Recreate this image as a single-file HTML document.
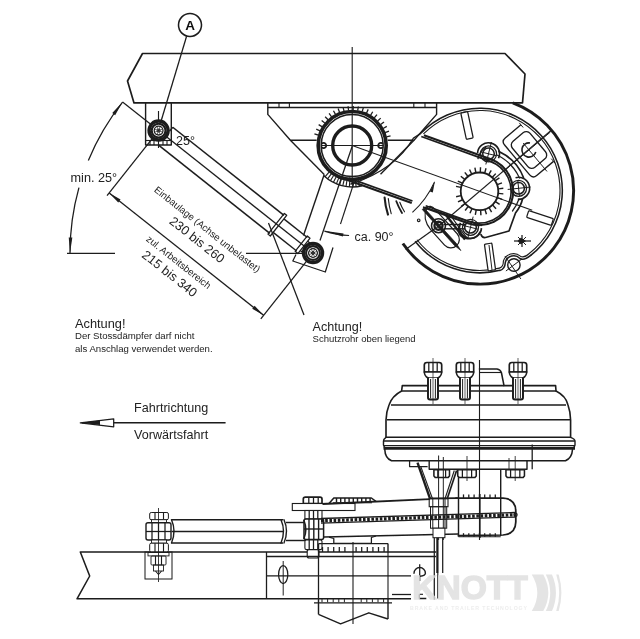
<!DOCTYPE html>
<html><head><meta charset="utf-8"><title>Drawing</title>
<style>
html,body{margin:0;padding:0;background:#fff;}
body{width:640px;height:639px;overflow:hidden;}
svg{display:block;font-family:"Liberation Sans",sans-serif;}
</style></head><body>
<svg width="640" height="639" viewBox="0 0 640 639">
<defs><filter id="soft" x="0" y="0" width="640" height="639" filterUnits="userSpaceOnUse"><feGaussianBlur stdDeviation="0.45"/></filter></defs>
<rect width="640" height="639" fill="#fff"/>
<g filter="url(#soft)">
<g id="top" stroke-linecap="butt">
<polygon points="142.50,53.50 505.00,53.50 525.00,74.00 522.50,102.90 134.00,102.90 127.50,81.00" fill="none" stroke="#1c1c1c" stroke-width="1.68" stroke-linejoin="round" />
<circle cx="190.00" cy="25.00" r="11.50" fill="none" stroke="#1c1c1c" stroke-width="1.54"/>
<text x="190.00" y="29.80" font-size="13.5" fill="#111" text-anchor="middle" font-weight="bold">A</text>
<line x1="186.60" y1="36.20" x2="159.00" y2="128.00" stroke="#1c1c1c" stroke-width="1.26" />
<polyline points="145.60,102.90 145.60,145.00 171.30,145.00 171.30,102.90" fill="none" stroke="#1c1c1c" stroke-width="1.4" stroke-linejoin="round" />
<line x1="145.60" y1="140.50" x2="171.30" y2="140.50" stroke="#1c1c1c" stroke-width="1.12" />
<line x1="150.00" y1="140.50" x2="150.00" y2="145.00" stroke="#1c1c1c" stroke-width="1.12" />
<line x1="154.00" y1="140.50" x2="154.00" y2="145.00" stroke="#1c1c1c" stroke-width="1.12" />
<line x1="163.00" y1="140.50" x2="163.00" y2="145.00" stroke="#1c1c1c" stroke-width="1.12" />
<line x1="167.00" y1="140.50" x2="167.00" y2="145.00" stroke="#1c1c1c" stroke-width="1.12" />
<line x1="158.50" y1="111.00" x2="158.50" y2="148.00" stroke="#1c1c1c" stroke-width="1.12" />
<line x1="122.55" y1="102.02" x2="158.60" y2="130.60" stroke="#1c1c1c" stroke-width="1.26" />
<line x1="172.73" y1="127.26" x2="284.01" y2="215.47" stroke="#1c1c1c" stroke-width="1.54" />
<line x1="172.73" y1="127.26" x2="169.63" y2="131.18" stroke="#1c1c1c" stroke-width="1.4" />
<line x1="158.57" y1="145.12" x2="269.85" y2="233.34" stroke="#1c1c1c" stroke-width="1.54" />
<line x1="158.60" y1="130.60" x2="313.00" y2="253.00" stroke="#1c1c1c" stroke-width="1.26" />
<polygon points="284.35,213.44 286.70,215.30 270.30,235.99 267.94,234.13" fill="none" stroke="#1c1c1c" stroke-width="1.26" stroke-linejoin="round" />
<line x1="283.84" y1="218.91" x2="307.35" y2="237.54" stroke="#1c1c1c" stroke-width="1.4" />
<line x1="273.15" y1="232.39" x2="296.66" y2="251.02" stroke="#1c1c1c" stroke-width="1.4" />
<polygon points="307.31,235.98 310.05,238.16 297.88,253.52 295.13,251.34" fill="none" stroke="#1c1c1c" stroke-width="1.26" stroke-linejoin="round" />
<line x1="307.69" y1="241.14" x2="311.22" y2="243.93" stroke="#1c1c1c" stroke-width="1.26" />
<line x1="300.24" y1="250.54" x2="303.76" y2="253.33" stroke="#1c1c1c" stroke-width="1.26" />
<circle cx="158.60" cy="130.60" r="9.50" fill="#fff" stroke="#1c1c1c" stroke-width="3.5"/>
<circle cx="158.60" cy="130.60" r="6.90" fill="none" stroke="#1c1c1c" stroke-width="2.1"/>
<circle cx="158.60" cy="130.60" r="4.40" fill="none" stroke="#1c1c1c" stroke-width="1.26"/>
<circle cx="158.60" cy="130.60" r="1.40" fill="none" stroke="#1c1c1c" stroke-width="0.98"/>
<line x1="154.71" y1="129.03" x2="162.49" y2="132.17" stroke="#1c1c1c" stroke-width="0.7" />
<line x1="156.96" y1="126.73" x2="160.24" y2="134.47" stroke="#1c1c1c" stroke-width="0.7" />
<line x1="160.17" y1="126.71" x2="157.03" y2="134.49" stroke="#1c1c1c" stroke-width="0.7" />
<line x1="162.47" y1="128.96" x2="154.73" y2="132.24" stroke="#1c1c1c" stroke-width="0.7" />
<circle cx="313.00" cy="253.00" r="9.50" fill="#fff" stroke="#1c1c1c" stroke-width="3.5"/>
<circle cx="313.00" cy="253.00" r="6.90" fill="none" stroke="#1c1c1c" stroke-width="2.1"/>
<circle cx="313.00" cy="253.00" r="4.40" fill="none" stroke="#1c1c1c" stroke-width="1.26"/>
<circle cx="313.00" cy="253.00" r="1.40" fill="none" stroke="#1c1c1c" stroke-width="0.98"/>
<line x1="309.11" y1="251.43" x2="316.89" y2="254.57" stroke="#1c1c1c" stroke-width="0.7" />
<line x1="311.36" y1="249.13" x2="314.64" y2="256.87" stroke="#1c1c1c" stroke-width="0.7" />
<line x1="314.57" y1="249.11" x2="311.43" y2="256.89" stroke="#1c1c1c" stroke-width="0.7" />
<line x1="316.87" y1="251.36" x2="309.13" y2="254.64" stroke="#1c1c1c" stroke-width="0.7" />
<text x="176.00" y="145.00" font-size="12.5" fill="#222" >25°</text>
<line x1="152.39" y1="138.44" x2="107.04" y2="195.64" stroke="#1c1c1c" stroke-width="1.26" />
<line x1="306.79" y1="260.84" x2="260.82" y2="318.83" stroke="#1c1c1c" stroke-width="1.26" />
<line x1="109.21" y1="192.90" x2="263.61" y2="315.30" stroke="#1c1c1c" stroke-width="1.26" />
<polygon points="109.21,192.90 120.58,199.49 118.22,202.46" fill="#1c1c1c"/>
<polygon points="263.61,315.30 252.25,308.71 254.61,305.73" fill="#1c1c1c"/>
<text transform="translate(205.21,231.99) rotate(38.41)" font-size="9.7" fill="#222" text-anchor="middle">Einbaulage (Achse unbelastet)</text>
<text transform="translate(194.41,243.21) rotate(38.41)" font-size="12.8" fill="#222" text-anchor="middle">230 bis 260</text>
<text transform="translate(176.62,264.84) rotate(38.41)" font-size="9.7" fill="#222" text-anchor="middle">zul. Arbeitsbereich</text>
<text transform="translate(166.99,276.99) rotate(38.41)" font-size="12.8" fill="#222" text-anchor="middle">215 bis 340</text>
<line x1="67.00" y1="253.30" x2="115.00" y2="253.30" stroke="#1c1c1c" stroke-width="1.26" />
<line x1="246.00" y1="253.30" x2="303.00" y2="253.30" stroke="#1c1c1c" stroke-width="1.26" />
<path d="M70.00,253.00 A243.00,243.00 0 0 1 78.95,187.65" fill="none" stroke="#1c1c1c" stroke-width="1.26"/>
<path d="M88.34,160.40 A243.00,243.00 0 0 1 122.58,102.04" fill="none" stroke="#1c1c1c" stroke-width="1.26"/>
<text x="70.50" y="181.80" font-size="12.7" fill="#222" >min. 25°</text>
<polygon points="70.00,253.00 68.74,237.45 72.34,237.57" fill="#1c1c1c"/>
<polygon points="122.58,102.04 115.12,115.18 112.23,113.05" fill="#1c1c1c"/>
<line x1="304.00" y1="315.00" x2="268.50" y2="223.00" stroke="#1c1c1c" stroke-width="1.26" />
<line x1="267.80" y1="107.50" x2="436.60" y2="107.50" stroke="#1c1c1c" stroke-width="1.26" />
<line x1="279.00" y1="102.90" x2="279.00" y2="107.50" stroke="#1c1c1c" stroke-width="1.12" />
<line x1="289.40" y1="102.90" x2="289.40" y2="107.50" stroke="#1c1c1c" stroke-width="1.12" />
<line x1="413.80" y1="102.90" x2="413.80" y2="107.50" stroke="#1c1c1c" stroke-width="1.12" />
<line x1="425.00" y1="102.90" x2="425.00" y2="107.50" stroke="#1c1c1c" stroke-width="1.12" />
<polyline points="267.80,102.90 267.80,114.40 290.40,140.30 316.70,140.30" fill="none" stroke="#1c1c1c" stroke-width="1.4" stroke-linejoin="round" />
<line x1="290.40" y1="140.30" x2="324.20" y2="174.50" stroke="#1c1c1c" stroke-width="1.4" />
<polyline points="436.60,102.90 436.60,114.40 414.00,140.30 387.70,140.30" fill="none" stroke="#1c1c1c" stroke-width="1.4" stroke-linejoin="round" />
<line x1="414.00" y1="140.30" x2="380.50" y2="174.20" stroke="#1c1c1c" stroke-width="1.4" />
<path d="M351,184 Q395,170 413.5,138 L420.5,133.6" fill="none" stroke="#1c1c1c" stroke-width="1.4" stroke-linejoin="round" stroke-linecap="round" />
<line x1="352.20" y1="47.00" x2="352.20" y2="183.00" stroke="#1c1c1c" stroke-width="1.12" />
<line x1="322.00" y1="145.50" x2="383.00" y2="145.50" stroke="#1c1c1c" stroke-width="1.12" />
<circle cx="352.20" cy="145.50" r="34.00" fill="none" stroke="#1c1c1c" stroke-width="3.64"/>
<circle cx="352.20" cy="145.50" r="31.00" fill="none" stroke="#1c1c1c" stroke-width="1.54"/>
<circle cx="352.20" cy="145.50" r="19.50" fill="none" stroke="#1c1c1c" stroke-width="3.36"/>
<path d="M321.61,143.83 A2.60,2.60 0 1 1 321.61,147.17" fill="none" stroke="#1c1c1c" stroke-width="1.82"/>
<path d="M382.79,147.17 A2.60,2.60 0 1 1 382.79,143.83" fill="none" stroke="#1c1c1c" stroke-width="1.82"/>
<line x1="318.44" y1="135.18" x2="314.43" y2="133.95" stroke="#1c1c1c" stroke-width="1.26" />
<line x1="320.07" y1="130.89" x2="316.24" y2="129.15" stroke="#1c1c1c" stroke-width="1.26" />
<line x1="322.23" y1="126.85" x2="318.67" y2="124.63" stroke="#1c1c1c" stroke-width="1.26" />
<line x1="324.90" y1="123.12" x2="321.66" y2="120.45" stroke="#1c1c1c" stroke-width="1.26" />
<line x1="328.04" y1="119.77" x2="325.16" y2="116.71" stroke="#1c1c1c" stroke-width="1.26" />
<line x1="331.58" y1="116.85" x2="329.12" y2="113.44" stroke="#1c1c1c" stroke-width="1.26" />
<line x1="335.46" y1="114.42" x2="333.47" y2="110.72" stroke="#1c1c1c" stroke-width="1.26" />
<line x1="339.64" y1="112.51" x2="338.14" y2="108.59" stroke="#1c1c1c" stroke-width="1.26" />
<line x1="344.02" y1="111.16" x2="343.05" y2="107.08" stroke="#1c1c1c" stroke-width="1.26" />
<line x1="348.54" y1="110.39" x2="348.11" y2="106.21" stroke="#1c1c1c" stroke-width="1.26" />
<line x1="353.12" y1="110.21" x2="353.23" y2="106.01" stroke="#1c1c1c" stroke-width="1.26" />
<line x1="357.69" y1="110.63" x2="358.35" y2="106.48" stroke="#1c1c1c" stroke-width="1.26" />
<line x1="362.17" y1="111.64" x2="363.35" y2="107.61" stroke="#1c1c1c" stroke-width="1.26" />
<line x1="366.47" y1="113.21" x2="368.17" y2="109.37" stroke="#1c1c1c" stroke-width="1.26" />
<line x1="370.54" y1="115.34" x2="372.72" y2="111.75" stroke="#1c1c1c" stroke-width="1.26" />
<line x1="374.30" y1="117.97" x2="376.92" y2="114.69" stroke="#1c1c1c" stroke-width="1.26" />
<line x1="377.68" y1="121.07" x2="380.71" y2="118.16" stroke="#1c1c1c" stroke-width="1.26" />
<line x1="380.63" y1="124.58" x2="384.01" y2="122.09" stroke="#1c1c1c" stroke-width="1.26" />
<line x1="383.10" y1="128.44" x2="386.78" y2="126.41" stroke="#1c1c1c" stroke-width="1.26" />
<line x1="385.06" y1="132.59" x2="388.96" y2="131.06" stroke="#1c1c1c" stroke-width="1.26" />
<line x1="386.45" y1="136.96" x2="390.53" y2="135.94" stroke="#1c1c1c" stroke-width="1.26" />
<path d="M362.24,185.77 A41.50,41.50 0 0 1 323.90,175.85" fill="none" stroke="#1c1c1c" stroke-width="1.4"/>
<line x1="358.33" y1="180.26" x2="359.41" y2="186.37" stroke="#1c1c1c" stroke-width="1.12" />
<line x1="355.50" y1="180.65" x2="356.08" y2="186.82" stroke="#1c1c1c" stroke-width="1.12" />
<line x1="352.65" y1="180.80" x2="352.73" y2="187.00" stroke="#1c1c1c" stroke-width="1.12" />
<line x1="349.79" y1="180.72" x2="349.37" y2="186.90" stroke="#1c1c1c" stroke-width="1.12" />
<line x1="346.95" y1="180.41" x2="346.03" y2="186.54" stroke="#1c1c1c" stroke-width="1.12" />
<line x1="344.15" y1="179.87" x2="342.74" y2="185.91" stroke="#1c1c1c" stroke-width="1.12" />
<line x1="341.40" y1="179.11" x2="339.50" y2="185.01" stroke="#1c1c1c" stroke-width="1.12" />
<line x1="338.72" y1="178.12" x2="336.35" y2="183.85" stroke="#1c1c1c" stroke-width="1.12" />
<line x1="336.12" y1="176.93" x2="333.30" y2="182.45" stroke="#1c1c1c" stroke-width="1.12" />
<line x1="333.64" y1="175.52" x2="330.38" y2="180.80" stroke="#1c1c1c" stroke-width="1.12" />
<line x1="331.27" y1="173.93" x2="327.59" y2="178.92" stroke="#1c1c1c" stroke-width="1.12" />
<line x1="329.04" y1="172.14" x2="324.97" y2="176.82" stroke="#1c1c1c" stroke-width="1.12" />
<line x1="423.93" y1="135.17" x2="491.01" y2="159.31" stroke="#1c1c1c" stroke-width="2.1" />
<line x1="421.30" y1="136.57" x2="490.27" y2="161.38" stroke="#1c1c1c" stroke-width="1.61" />
<line x1="342.57" y1="178.17" x2="411.73" y2="203.05" stroke="#1c1c1c" stroke-width="2.1" />
<line x1="348.96" y1="178.13" x2="412.48" y2="200.98" stroke="#1c1c1c" stroke-width="1.61" />
<line x1="424.91" y1="207.79" x2="467.99" y2="223.29" stroke="#1c1c1c" stroke-width="2.1" />
<line x1="425.65" y1="205.72" x2="468.73" y2="221.22" stroke="#1c1c1c" stroke-width="1.61" />
<path d="M491.01,159.31 A34.00,34.00 0 0 1 467.99,223.29" fill="none" stroke="#1c1c1c" stroke-width="2.1"/>
<path d="M490.27,161.38 A31.80,31.80 0 0 1 468.73,221.22" fill="none" stroke="#1c1c1c" stroke-width="1.61"/>
<line x1="352.20" y1="145.50" x2="532.19" y2="210.26" stroke="#1c1c1c" stroke-width="1.12" />
<line x1="324.20" y1="174.50" x2="303.50" y2="235.50" stroke="#1c1c1c" stroke-width="1.4" />
<line x1="352.20" y1="146.30" x2="320.00" y2="240.50" stroke="#1c1c1c" stroke-width="1.26" />
<line x1="354.50" y1="181.00" x2="340.50" y2="224.00" stroke="#1c1c1c" stroke-width="1.12" />
<polyline points="296.00,254.50 292.80,261.00 325.30,272.00 333.00,247.50" fill="none" stroke="#1c1c1c" stroke-width="1.26" stroke-linejoin="round" />
<path d="M434.42,182.11 A90.00,90.00 0 0 1 412.42,212.38" fill="none" stroke="#1c1c1c" stroke-width="1.12"/>
<path d="M349.06,235.45 A90.00,90.00 0 0 1 324.39,231.10" fill="none" stroke="#1c1c1c" stroke-width="1.12"/>
<polygon points="435.05,180.67 432.76,192.54 429.91,191.61" fill="#1c1c1c"/>
<polygon points="323.64,230.85 343.54,233.44 342.87,236.57" fill="#1c1c1c"/>
<text x="354.50" y="240.50" font-size="12.5" fill="#222" >ca. 90°</text>
<path d="M384.6,197.5 Q385.2,206 388,214.6" fill="none" stroke="#1c1c1c" stroke-width="2.1" stroke-linejoin="round" stroke-linecap="round" />
<path d="M388.3,198.6 Q389,206 391.2,213.6" fill="none" stroke="#1c1c1c" stroke-width="1.12" stroke-linejoin="round" stroke-linecap="round" />
<path d="M396.3,201.2 Q398.5,207 402,213" fill="none" stroke="#1c1c1c" stroke-width="1.82" stroke-linejoin="round" stroke-linecap="round" />
<path d="M399.8,202.3 Q401.5,207 404.5,211.8" fill="none" stroke="#1c1c1c" stroke-width="1.12" stroke-linejoin="round" stroke-linecap="round" />
<path d="M512.78,102.83 A93.60,93.60 0 1 1 402.86,243.52" fill="none" stroke="#1c1c1c" stroke-width="2.94"/>
<path d="M420.80,133.33 A82.30,82.30 0 1 1 530.67,255.35" fill="none" stroke="#1c1c1c" stroke-width="1.54"/>
<path d="M423.43,133.93 A80.00,80.00 0 1 1 529.25,253.54" fill="none" stroke="#1c1c1c" stroke-width="1.12"/>
<path d="M499.91,270.36 A82.30,82.30 0 0 1 415.15,241.17" fill="none" stroke="#1c1c1c" stroke-width="1.54"/>
<path d="M499.35,268.12 A80.00,80.00 0 0 1 416.96,239.75" fill="none" stroke="#1c1c1c" stroke-width="1.12"/>
<path d="M499.9,270.4 Q504.9,269.4 505.4,262.0 A8.6,8.6 0 0 1 519.9,258.5 Q523.9,261.0 530.7,255.4" fill="none" stroke="#1c1c1c" stroke-width="1.54" stroke-linejoin="round" stroke-linecap="round" />
<path d="M499.4,268.1 Q503.4,267.1 503.4,261.0 A10.6,10.6 0 0 1 520.4,256.2 Q523.9,258.5 529.3,253.5" fill="none" stroke="#1c1c1c" stroke-width="1.12" stroke-linejoin="round" stroke-linecap="round" />
<circle cx="513.90" cy="265.00" r="6.20" fill="none" stroke="#1c1c1c" stroke-width="1.4"/>
<line x1="504.90" y1="256.00" x2="520.90" y2="279.00" stroke="#1c1c1c" stroke-width="0.98" />
<line x1="505.90" y1="271.00" x2="521.90" y2="259.00" stroke="#1c1c1c" stroke-width="0.98" />
<line x1="405.60" y1="249.50" x2="435.00" y2="228.40" stroke="#1c1c1c" stroke-width="1.26" />
<circle cx="479.50" cy="191.30" r="18.80" fill="none" stroke="#1c1c1c" stroke-width="1.82"/>
<line x1="460.92" y1="187.35" x2="456.02" y2="186.31" stroke="#1c1c1c" stroke-width="1.4" />
<line x1="462.34" y1="183.15" x2="457.82" y2="181.01" stroke="#1c1c1c" stroke-width="1.4" />
<line x1="464.69" y1="179.39" x2="460.80" y2="176.26" stroke="#1c1c1c" stroke-width="1.4" />
<line x1="467.85" y1="176.29" x2="464.79" y2="172.34" stroke="#1c1c1c" stroke-width="1.4" />
<line x1="471.65" y1="174.00" x2="469.59" y2="169.44" stroke="#1c1c1c" stroke-width="1.4" />
<line x1="475.87" y1="172.65" x2="474.92" y2="167.74" stroke="#1c1c1c" stroke-width="1.4" />
<line x1="480.30" y1="172.32" x2="480.51" y2="167.32" stroke="#1c1c1c" stroke-width="1.4" />
<line x1="484.67" y1="173.02" x2="486.03" y2="168.21" stroke="#1c1c1c" stroke-width="1.4" />
<line x1="488.77" y1="174.71" x2="491.21" y2="170.35" stroke="#1c1c1c" stroke-width="1.4" />
<line x1="492.36" y1="177.31" x2="495.75" y2="173.63" stroke="#1c1c1c" stroke-width="1.4" />
<line x1="495.25" y1="180.68" x2="499.40" y2="177.88" stroke="#1c1c1c" stroke-width="1.4" />
<line x1="497.29" y1="184.62" x2="501.97" y2="182.86" stroke="#1c1c1c" stroke-width="1.4" />
<line x1="498.35" y1="188.92" x2="503.31" y2="188.29" stroke="#1c1c1c" stroke-width="1.4" />
<line x1="498.39" y1="193.35" x2="503.36" y2="193.89" stroke="#1c1c1c" stroke-width="1.4" />
<line x1="497.40" y1="197.67" x2="502.11" y2="199.35" stroke="#1c1c1c" stroke-width="1.4" />
<line x1="495.43" y1="201.65" x2="499.63" y2="204.37" stroke="#1c1c1c" stroke-width="1.4" />
<line x1="492.60" y1="205.06" x2="496.05" y2="208.68" stroke="#1c1c1c" stroke-width="1.4" />
<line x1="489.06" y1="207.72" x2="491.57" y2="212.04" stroke="#1c1c1c" stroke-width="1.4" />
<line x1="484.99" y1="209.49" x2="486.44" y2="214.28" stroke="#1c1c1c" stroke-width="1.4" />
<line x1="480.63" y1="210.27" x2="480.92" y2="215.26" stroke="#1c1c1c" stroke-width="1.4" />
<line x1="476.20" y1="210.01" x2="475.33" y2="214.94" stroke="#1c1c1c" stroke-width="1.4" />
<line x1="471.95" y1="208.74" x2="469.97" y2="213.33" stroke="#1c1c1c" stroke-width="1.4" />
<line x1="468.12" y1="206.51" x2="465.12" y2="210.52" stroke="#1c1c1c" stroke-width="1.4" />
<line x1="464.90" y1="203.46" x2="461.06" y2="206.66" stroke="#1c1c1c" stroke-width="1.4" />
<line x1="462.48" y1="199.75" x2="458.00" y2="201.97" stroke="#1c1c1c" stroke-width="1.4" />
<line x1="460.99" y1="195.57" x2="456.12" y2="196.70" stroke="#1c1c1c" stroke-width="1.4" />
<line x1="437.00" y1="227.50" x2="551.00" y2="130.50" stroke="#1c1c1c" stroke-width="1.12" />
<circle cx="488.50" cy="153.80" r="5.80" fill="none" stroke="#1c1c1c" stroke-width="1.54"/>
<circle cx="488.50" cy="153.80" r="8.00" fill="none" stroke="#1c1c1c" stroke-width="1.26"/>
<path d="M477.53,153.03 A11.00,11.00 0 1 1 498.55,158.27" fill="none" stroke="#1c1c1c" stroke-width="1.68"/>
<line x1="485.84" y1="164.47" x2="491.40" y2="142.16" stroke="#1c1c1c" stroke-width="0.98" />
<line x1="480.74" y1="151.86" x2="496.26" y2="155.74" stroke="#1c1c1c" stroke-width="0.98" />
<circle cx="518.60" cy="188.30" r="5.80" fill="none" stroke="#1c1c1c" stroke-width="1.54"/>
<circle cx="518.60" cy="188.30" r="8.00" fill="none" stroke="#1c1c1c" stroke-width="1.26"/>
<path d="M515.57,177.73 A11.00,11.00 0 1 1 517.83,199.27" fill="none" stroke="#1c1c1c" stroke-width="1.68"/>
<line x1="507.66" y1="189.45" x2="530.53" y2="187.05" stroke="#1c1c1c" stroke-width="0.98" />
<line x1="517.76" y1="180.34" x2="519.44" y2="196.26" stroke="#1c1c1c" stroke-width="0.98" />
<circle cx="470.50" cy="227.30" r="5.80" fill="none" stroke="#1c1c1c" stroke-width="1.54"/>
<circle cx="470.50" cy="227.30" r="8.00" fill="none" stroke="#1c1c1c" stroke-width="1.26"/>
<path d="M481.47,228.07 A11.00,11.00 0 1 1 460.45,222.83" fill="none" stroke="#1c1c1c" stroke-width="1.68"/>
<line x1="473.16" y1="216.63" x2="467.60" y2="238.94" stroke="#1c1c1c" stroke-width="0.98" />
<line x1="478.26" y1="229.24" x2="462.74" y2="225.36" stroke="#1c1c1c" stroke-width="0.98" />
<path d="M499,151.5 Q517,160 523.5,177.5" fill="none" stroke="#1c1c1c" stroke-width="1.68" stroke-linejoin="round" stroke-linecap="round" />
<path d="M497,155 Q512.5,162.5 519.5,178" fill="none" stroke="#1c1c1c" stroke-width="1.26" stroke-linejoin="round" stroke-linecap="round" />
<path d="M522.5,199 Q521,206 515.5,213 L509,231 L485.5,237.5 Q482,238 481,234.5" fill="none" stroke="#1c1c1c" stroke-width="1.68" stroke-linejoin="round" stroke-linecap="round" />
<path d="M519,199 Q517,205 512.5,211" fill="none" stroke="#1c1c1c" stroke-width="1.26" stroke-linejoin="round" stroke-linecap="round" />
<path d="M459.5,225 Q456,236 466,238.5 Q476,240 480,232" fill="none" stroke="#1c1c1c" stroke-width="1.54" stroke-linejoin="round" stroke-linecap="round" />
<path d="M478,158.5 Q480,151 486,147" fill="none" stroke="#1c1c1c" stroke-width="1.4" stroke-linejoin="round" stroke-linecap="round" />
<g transform="translate(529,150) rotate(-40)" fill="none" stroke="#1c1c1c">
<path d="M10,-24.5 L-10.5,-24.5 Q-15.5,-24.5 -15.5,-19.5 L-15.5,19.5 Q-15.5,24.5 -10.5,24.5 L11.5,24.5" stroke-width="1.35"/>
<rect x="-11.5" y="-17" width="23" height="34" rx="5" stroke-width="1.35"/>
<path d="M3.87,5.95 A7.1,7.1 0 1 1 5.28,-4.75" stroke-width="1.6"/>
<line x1="-30" y1="0" x2="28" y2="0" stroke-width="0.9"/>
<line x1="0" y1="-9" x2="0" y2="28" stroke-width="0.9"/>
<line x1="10" y1="-27" x2="10" y2="-21" stroke-width="0.9"/>
<line x1="11.5" y1="21" x2="11.5" y2="27" stroke-width="0.9"/>
</g>
<rect x="-3.5" y="-13.5" width="7" height="27" rx="1" fill="#fff" stroke="#1c1c1c" stroke-width="1.25" transform="translate(467,125.5) rotate(-12)"/>
<rect x="-3.5" y="-13.0" width="7" height="26" rx="1" fill="#fff" stroke="#1c1c1c" stroke-width="1.25" transform="translate(540,218) rotate(-72)"/>
<rect x="-3.75" y="-13.5" width="7.5" height="27" rx="1" fill="#fff" stroke="#1c1c1c" stroke-width="1.25" transform="translate(490,257) rotate(-8)"/>
<line x1="489.00" y1="245.00" x2="492.00" y2="270.00" stroke="#1c1c1c" stroke-width="0.98" />
<g transform="translate(438.5,225.7) rotate(48)" stroke="#1c1c1c">
<path d="M-21,-3 Q-22,-8 -14,-8.5 L18.5,-8.5 A8.5,8.5 0 0 1 18.5,8.5 L-2,8.5 Q-16,8 -21,-3 Z" fill="none" stroke-width="1.2"/>
<polygon points="-23,-1.2 25,-1.4 33.5,0 25,1.4 -23,1.2" fill="#1c1c1c" stroke-width="0.6"/>
</g>
<circle cx="438.50" cy="225.70" r="7.00" fill="none" stroke="#1c1c1c" stroke-width="1.54"/>
<circle cx="438.50" cy="225.70" r="4.00" fill="none" stroke="#1c1c1c" stroke-width="2.38"/>
<circle cx="438.50" cy="225.70" r="1.30" fill="none" stroke="#1c1c1c" stroke-width="0.84"/>
<line x1="433.50" y1="229.70" x2="443.50" y2="221.70" stroke="#1c1c1c" stroke-width="0.84" />
<line x1="434.50" y1="220.70" x2="442.50" y2="230.70" stroke="#1c1c1c" stroke-width="0.84" />
<circle cx="418.70" cy="220.30" r="1.30" fill="none" stroke="#1c1c1c" stroke-width="1.12"/>
<line x1="446.00" y1="215.00" x2="465.00" y2="239.50" stroke="#1c1c1c" stroke-width="2.38" />
<line x1="443.50" y1="224.50" x2="465.00" y2="224.50" stroke="#1c1c1c" stroke-width="1.4" />
<line x1="443.50" y1="228.80" x2="465.00" y2="228.80" stroke="#1c1c1c" stroke-width="1.4" />
<path d="M451,216 Q462,232 467,238" fill="none" stroke="#1c1c1c" stroke-width="1.26" stroke-linejoin="round" stroke-linecap="round" />
<line x1="423.00" y1="207.00" x2="482.00" y2="225.60" stroke="#1c1c1c" stroke-width="1.4" />
<path d="M517.5,241 l3.2,-3.2 l5.5,3.2 l-5.5,3.2 z" fill="#1c1c1c"/>
<line x1="514.00" y1="241.00" x2="531.00" y2="241.00" stroke="#1c1c1c" stroke-width="1.26" />
<line x1="522.00" y1="235.00" x2="522.00" y2="247.00" stroke="#1c1c1c" stroke-width="1.26" />
<line x1="518.00" y1="237.00" x2="526.00" y2="245.00" stroke="#1c1c1c" stroke-width="0.98" />
<line x1="518.00" y1="245.00" x2="526.00" y2="237.00" stroke="#1c1c1c" stroke-width="0.98" />
<text x="75.00" y="327.50" font-size="12.8" fill="#222" >Achtung!</text>
<text x="75.00" y="339.00" font-size="9.6" fill="#222" >Der Stossdämpfer darf nicht</text>
<text x="75.00" y="351.50" font-size="9.6" fill="#222" >als Anschlag verwendet werden.</text>
<text x="312.50" y="330.80" font-size="12.6" fill="#222" >Achtung!</text>
<text x="312.60" y="342.20" font-size="9.5" fill="#222" >Schutzrohr oben liegend</text>
<text x="134.00" y="412.00" font-size="12.6" fill="#222" >Fahrtrichtung</text>
<text x="134.00" y="439.00" font-size="12.6" fill="#222" >Vorwärtsfahrt</text>
<line x1="82.00" y1="422.80" x2="225.60" y2="422.80" stroke="#1c1c1c" stroke-width="1.4" />
<polygon points="80.30,422.80 113.70,418.80 113.70,426.80" fill="#fff" stroke="#1c1c1c" stroke-width="1.26" stroke-linejoin="round" />
<polygon points="80.3,422.8 100,420.6 100,425" fill="#1c1c1c"/>
</g>
<g id="bottom">
<polyline points="436.20,552.00 80.30,552.00 89.70,576.00 77.00,598.80 411.00,598.80" fill="none" stroke="#1c1c1c" stroke-width="1.54" stroke-linejoin="round" />
<line x1="392.00" y1="594.50" x2="411.00" y2="594.50" stroke="#1c1c1c" stroke-width="1.26" />
<line x1="266.50" y1="575.80" x2="411.00" y2="575.80" stroke="#1c1c1c" stroke-width="1.26" />
<line x1="266.50" y1="552.00" x2="266.50" y2="598.80" stroke="#1c1c1c" stroke-width="1.26" />
<line x1="171.50" y1="519.70" x2="283.00" y2="519.70" stroke="#1c1c1c" stroke-width="1.54" />
<line x1="171.50" y1="543.00" x2="283.00" y2="543.00" stroke="#1c1c1c" stroke-width="1.54" />
<line x1="171.50" y1="531.50" x2="283.00" y2="531.50" stroke="#1c1c1c" stroke-width="1.26" />
<path d="M171.5,519.7 Q176.5,531 171.5,543" fill="none" stroke="#1c1c1c" stroke-width="1.4" stroke-linejoin="round" stroke-linecap="round" />
<path d="M281,519.7 Q286,531 281,543" fill="none" stroke="#1c1c1c" stroke-width="1.4" stroke-linejoin="round" stroke-linecap="round" />
<path d="M284,519.7 Q289,531 284,543" fill="none" stroke="#1c1c1c" stroke-width="1.4" stroke-linejoin="round" stroke-linecap="round" />
<line x1="286.00" y1="522.50" x2="307.00" y2="522.50" stroke="#1c1c1c" stroke-width="1.4" />
<line x1="286.00" y1="540.50" x2="307.00" y2="540.50" stroke="#1c1c1c" stroke-width="1.4" />
<rect x="149.70" y="512.50" width="18.70" height="7.20" rx="1.5" fill="#fff" stroke="#1c1c1c" stroke-width="1.0"/>
<line x1="155.00" y1="512.50" x2="155.00" y2="519.70" stroke="#1c1c1c" stroke-width="1.12" />
<line x1="163.50" y1="512.50" x2="163.50" y2="519.70" stroke="#1c1c1c" stroke-width="1.12" />
<rect x="151.50" y="519.70" width="15.00" height="3.20" rx="0" fill="#fff" stroke="#1c1c1c" stroke-width="0.9"/>
<rect x="146.00" y="522.80" width="25.00" height="17.20" rx="2" fill="#fff" stroke="#1c1c1c" stroke-width="1.4"/>
<line x1="152.00" y1="522.80" x2="152.00" y2="540.00" stroke="#1c1c1c" stroke-width="1.26" />
<line x1="158.50" y1="522.80" x2="158.50" y2="540.00" stroke="#1c1c1c" stroke-width="1.26" />
<line x1="165.00" y1="522.80" x2="165.00" y2="540.00" stroke="#1c1c1c" stroke-width="1.26" />
<line x1="146.00" y1="531.50" x2="171.00" y2="531.50" stroke="#1c1c1c" stroke-width="1.26" />
<rect x="151.50" y="540.00" width="15.00" height="3.20" rx="0" fill="#fff" stroke="#1c1c1c" stroke-width="0.9"/>
<rect x="149.70" y="543.20" width="18.70" height="8.80" rx="1.5" fill="#fff" stroke="#1c1c1c" stroke-width="1.0"/>
<line x1="155.00" y1="543.20" x2="155.00" y2="552.00" stroke="#1c1c1c" stroke-width="1.12" />
<line x1="163.50" y1="543.20" x2="163.50" y2="552.00" stroke="#1c1c1c" stroke-width="1.12" />
<rect x="145.00" y="552.00" width="27.00" height="27.00" rx="0" fill="none" stroke="#1c1c1c" stroke-width="1.0"/>
<rect x="148.00" y="552.50" width="21.00" height="3.40" rx="0" fill="none" stroke="#1c1c1c" stroke-width="0.9"/>
<rect x="151.00" y="556.00" width="15.00" height="9.00" rx="1" fill="none" stroke="#1c1c1c" stroke-width="0.9"/>
<line x1="155.50" y1="556.00" x2="155.50" y2="565.00" stroke="#1c1c1c" stroke-width="1.12" />
<line x1="161.50" y1="556.00" x2="161.50" y2="565.00" stroke="#1c1c1c" stroke-width="1.12" />
<rect x="153.50" y="565.00" width="10.00" height="6.00" rx="0" fill="none" stroke="#1c1c1c" stroke-width="0.9"/>
<polyline points="155.50,571.00 158.50,574.50 161.50,571.00" fill="none" stroke="#1c1c1c" stroke-width="1.12" stroke-linejoin="round" />
<line x1="158.50" y1="508.00" x2="158.50" y2="582.00" stroke="#1c1c1c" stroke-width="0.84" />
<path d="M303.3,503.5 L303.3,499 Q303.3,497.2 305.3,497.2 L320,497.2 Q322,497.2 322,499 L322,503.5 Z" fill="#fff" stroke="#1c1c1c" stroke-width="1.68" stroke-linejoin="round" stroke-linecap="round" />
<line x1="308.80" y1="497.20" x2="308.80" y2="503.50" stroke="#1c1c1c" stroke-width="1.26" />
<line x1="313.50" y1="497.20" x2="313.50" y2="503.50" stroke="#1c1c1c" stroke-width="1.26" />
<line x1="318.20" y1="497.20" x2="318.20" y2="503.50" stroke="#1c1c1c" stroke-width="1.26" />
<rect x="292.30" y="503.50" width="62.70" height="7.00" rx="0" fill="#fff" stroke="#1c1c1c" stroke-width="1.1"/>
<rect x="304.90" y="510.50" width="17.10" height="8.50" rx="0" fill="#fff" stroke="#1c1c1c" stroke-width="1.1"/>
<line x1="309.20" y1="510.50" x2="309.20" y2="519.00" stroke="#1c1c1c" stroke-width="1.26" />
<line x1="313.50" y1="510.50" x2="313.50" y2="519.00" stroke="#1c1c1c" stroke-width="1.26" />
<line x1="317.80" y1="510.50" x2="317.80" y2="519.00" stroke="#1c1c1c" stroke-width="1.26" />
<rect x="304.00" y="519.00" width="19.60" height="20.50" rx="2" fill="#fff" stroke="#1c1c1c" stroke-width="1.5"/>
<line x1="309.00" y1="519.00" x2="309.00" y2="539.50" stroke="#1c1c1c" stroke-width="1.4" />
<line x1="313.80" y1="519.00" x2="313.80" y2="539.50" stroke="#1c1c1c" stroke-width="1.4" />
<line x1="318.60" y1="519.00" x2="318.60" y2="539.50" stroke="#1c1c1c" stroke-width="1.4" />
<line x1="304.00" y1="529.00" x2="323.60" y2="529.00" stroke="#1c1c1c" stroke-width="1.4" />
<path d="M304,520.5 Q307.5,529.5 304,538.5" fill="none" stroke="#1c1c1c" stroke-width="1.54" stroke-linejoin="round" stroke-linecap="round" />
<rect x="304.90" y="540.00" width="17.10" height="9.60" rx="1.5" fill="#fff" stroke="#1c1c1c" stroke-width="1.1"/>
<line x1="309.20" y1="540.00" x2="309.20" y2="549.60" stroke="#1c1c1c" stroke-width="1.26" />
<line x1="313.50" y1="540.00" x2="313.50" y2="549.60" stroke="#1c1c1c" stroke-width="1.26" />
<line x1="317.80" y1="540.00" x2="317.80" y2="549.60" stroke="#1c1c1c" stroke-width="1.26" />
<rect x="307.20" y="549.60" width="11.80" height="8.40" rx="2" fill="#fff" stroke="#1c1c1c" stroke-width="1.1"/>
<polyline points="329.00,503.50 333.80,498.00 371.40,498.00 376.20,501.60" fill="none" stroke="#1c1c1c" stroke-width="1.54" stroke-linejoin="round" />
<line x1="336.50" y1="498.00" x2="336.50" y2="502.60" stroke="#1c1c1c" stroke-width="1.4" />
<line x1="340.70" y1="498.00" x2="340.70" y2="502.60" stroke="#1c1c1c" stroke-width="1.4" />
<line x1="344.90" y1="498.00" x2="344.90" y2="502.60" stroke="#1c1c1c" stroke-width="1.4" />
<line x1="349.10" y1="498.00" x2="349.10" y2="502.60" stroke="#1c1c1c" stroke-width="1.4" />
<line x1="353.30" y1="498.00" x2="353.30" y2="502.60" stroke="#1c1c1c" stroke-width="1.4" />
<line x1="357.50" y1="498.00" x2="357.50" y2="502.60" stroke="#1c1c1c" stroke-width="1.4" />
<line x1="361.70" y1="498.00" x2="361.70" y2="502.60" stroke="#1c1c1c" stroke-width="1.4" />
<line x1="365.90" y1="498.00" x2="365.90" y2="502.60" stroke="#1c1c1c" stroke-width="1.4" />
<line x1="370.10" y1="498.00" x2="370.10" y2="502.60" stroke="#1c1c1c" stroke-width="1.4" />
<line x1="333.00" y1="502.80" x2="372.00" y2="502.80" stroke="#1c1c1c" stroke-width="0.98" />
<line x1="322.50" y1="504.00" x2="430.00" y2="499.20" stroke="#1c1c1c" stroke-width="1.82" />
<line x1="430.00" y1="498.40" x2="458.50" y2="498.20" stroke="#1c1c1c" stroke-width="1.82" />
<line x1="324.00" y1="537.00" x2="458.50" y2="534.00" stroke="#1c1c1c" stroke-width="1.68" />
<line x1="321.00" y1="520.80" x2="515.00" y2="514.80" stroke="#1c1c1c" stroke-width="3.22" stroke-dasharray="2.6 1.6"/>
<line x1="321.00" y1="518.50" x2="515.00" y2="512.50" stroke="#1c1c1c" stroke-width="1.26" />
<line x1="321.00" y1="523.10" x2="515.00" y2="517.10" stroke="#1c1c1c" stroke-width="1.26" />
<circle cx="515.50" cy="514.80" r="1.60" fill="none" stroke="#1c1c1c" stroke-width="1.26"/>
<path d="M456,498.2 L503,498.2 Q515.8,499 515.8,511 L515.8,522 Q515.6,534 503,535 L458.5,535.7" fill="none" stroke="#1c1c1c" stroke-width="1.75" stroke-linejoin="round" stroke-linecap="round" />
<line x1="458.50" y1="470.50" x2="458.50" y2="536.50" stroke="#1c1c1c" stroke-width="1.4" />
<line x1="500.70" y1="469.30" x2="500.70" y2="536.00" stroke="#1c1c1c" stroke-width="1.4" />
<line x1="480.00" y1="494.00" x2="480.00" y2="538.00" stroke="#1c1c1c" stroke-width="1.26" />
<line x1="463.50" y1="494.40" x2="463.50" y2="498.20" stroke="#1c1c1c" stroke-width="1.26" />
<line x1="468.80" y1="494.40" x2="468.80" y2="498.20" stroke="#1c1c1c" stroke-width="1.26" />
<line x1="474.10" y1="494.40" x2="474.10" y2="498.20" stroke="#1c1c1c" stroke-width="1.26" />
<line x1="479.40" y1="494.40" x2="479.40" y2="498.20" stroke="#1c1c1c" stroke-width="1.26" />
<line x1="484.70" y1="494.40" x2="484.70" y2="498.20" stroke="#1c1c1c" stroke-width="1.26" />
<line x1="490.00" y1="494.40" x2="490.00" y2="498.20" stroke="#1c1c1c" stroke-width="1.26" />
<line x1="495.30" y1="494.40" x2="495.30" y2="498.20" stroke="#1c1c1c" stroke-width="1.26" />
<line x1="463.50" y1="533.20" x2="463.50" y2="536.80" stroke="#1c1c1c" stroke-width="1.26" />
<line x1="468.80" y1="533.20" x2="468.80" y2="536.80" stroke="#1c1c1c" stroke-width="1.26" />
<line x1="474.10" y1="533.20" x2="474.10" y2="536.80" stroke="#1c1c1c" stroke-width="1.26" />
<line x1="479.40" y1="533.20" x2="479.40" y2="536.80" stroke="#1c1c1c" stroke-width="1.26" />
<line x1="484.70" y1="533.20" x2="484.70" y2="536.80" stroke="#1c1c1c" stroke-width="1.26" />
<line x1="490.00" y1="533.20" x2="490.00" y2="536.80" stroke="#1c1c1c" stroke-width="1.26" />
<line x1="495.30" y1="533.20" x2="495.30" y2="536.80" stroke="#1c1c1c" stroke-width="1.26" />
<line x1="458.50" y1="536.80" x2="500.70" y2="536.80" stroke="#1c1c1c" stroke-width="1.12" />
<line x1="318.50" y1="543.60" x2="318.50" y2="552.00" stroke="#1c1c1c" stroke-width="1.4" />
<line x1="388.00" y1="543.60" x2="388.00" y2="552.00" stroke="#1c1c1c" stroke-width="1.4" />
<line x1="318.50" y1="543.60" x2="388.00" y2="543.60" stroke="#1c1c1c" stroke-width="1.4" />
<line x1="322.50" y1="547.00" x2="322.50" y2="552.00" stroke="#1c1c1c" stroke-width="1.26" />
<line x1="328.10" y1="547.00" x2="328.10" y2="552.00" stroke="#1c1c1c" stroke-width="1.26" />
<line x1="333.70" y1="547.00" x2="333.70" y2="552.00" stroke="#1c1c1c" stroke-width="1.26" />
<line x1="339.30" y1="547.00" x2="339.30" y2="552.00" stroke="#1c1c1c" stroke-width="1.26" />
<line x1="344.90" y1="547.00" x2="344.90" y2="552.00" stroke="#1c1c1c" stroke-width="1.26" />
<line x1="356.10" y1="547.00" x2="356.10" y2="552.00" stroke="#1c1c1c" stroke-width="1.26" />
<line x1="361.70" y1="547.00" x2="361.70" y2="552.00" stroke="#1c1c1c" stroke-width="1.26" />
<line x1="367.30" y1="547.00" x2="367.30" y2="552.00" stroke="#1c1c1c" stroke-width="1.26" />
<line x1="372.90" y1="547.00" x2="372.90" y2="552.00" stroke="#1c1c1c" stroke-width="1.26" />
<line x1="378.50" y1="547.00" x2="378.50" y2="552.00" stroke="#1c1c1c" stroke-width="1.26" />
<line x1="384.10" y1="547.00" x2="384.10" y2="552.00" stroke="#1c1c1c" stroke-width="1.26" />
<line x1="266.50" y1="556.50" x2="436.20" y2="556.50" stroke="#1c1c1c" stroke-width="1.26" />
<line x1="318.50" y1="598.80" x2="318.50" y2="614.40" stroke="#1c1c1c" stroke-width="1.4" />
<line x1="388.00" y1="598.80" x2="388.00" y2="619.00" stroke="#1c1c1c" stroke-width="1.4" />
<line x1="353.00" y1="542.00" x2="353.00" y2="624.00" stroke="#1c1c1c" stroke-width="1.12" />
<line x1="318.50" y1="552.00" x2="318.50" y2="598.80" stroke="#1c1c1c" stroke-width="1.26" />
<line x1="388.00" y1="552.00" x2="388.00" y2="598.80" stroke="#1c1c1c" stroke-width="1.12" />
<line x1="314.00" y1="602.80" x2="392.00" y2="602.80" stroke="#1c1c1c" stroke-width="1.26" />
<line x1="322.00" y1="598.80" x2="322.00" y2="602.20" stroke="#1c1c1c" stroke-width="0.98" />
<line x1="327.60" y1="598.80" x2="327.60" y2="602.20" stroke="#1c1c1c" stroke-width="0.98" />
<line x1="333.20" y1="598.80" x2="333.20" y2="602.20" stroke="#1c1c1c" stroke-width="0.98" />
<line x1="338.80" y1="598.80" x2="338.80" y2="602.20" stroke="#1c1c1c" stroke-width="0.98" />
<line x1="344.40" y1="598.80" x2="344.40" y2="602.20" stroke="#1c1c1c" stroke-width="0.98" />
<line x1="361.20" y1="598.80" x2="361.20" y2="602.20" stroke="#1c1c1c" stroke-width="0.98" />
<line x1="366.80" y1="598.80" x2="366.80" y2="602.20" stroke="#1c1c1c" stroke-width="0.98" />
<line x1="372.40" y1="598.80" x2="372.40" y2="602.20" stroke="#1c1c1c" stroke-width="0.98" />
<line x1="378.00" y1="598.80" x2="378.00" y2="602.20" stroke="#1c1c1c" stroke-width="0.98" />
<line x1="383.60" y1="598.80" x2="383.60" y2="602.20" stroke="#1c1c1c" stroke-width="0.98" />
<polyline points="318.50,614.40 340.60,623.80 368.80,612.80 388.00,619.00" fill="none" stroke="#1c1c1c" stroke-width="1.4" stroke-linejoin="round" />
<polyline points="329.00,537.20 333.80,538.50 333.80,543.40 371.40,543.40 371.40,537.50 376.00,536.00" fill="none" stroke="#1c1c1c" stroke-width="1.26" stroke-linejoin="round" />
<ellipse cx="283.2" cy="574.5" rx="4.6" ry="9" fill="none" stroke="#1c1c1c" stroke-width="1.25"/>
<line x1="283.20" y1="561.00" x2="283.20" y2="595.50" stroke="#1c1c1c" stroke-width="0.98" />
<path d="M414,573.2 A5.7,5.7 0 0 1 425.4,573.2 Q425.4,575.5 419.9,576.3" fill="none" stroke="#1c1c1c" stroke-width="1.4" stroke-linejoin="round" stroke-linecap="round" />
<line x1="419.70" y1="564.20" x2="419.70" y2="581.00" stroke="#1c1c1c" stroke-width="1.26" />
<polyline points="419.30,594.30 419.30,598.50 426.30,598.50" fill="none" stroke="#1c1c1c" stroke-width="1.26" stroke-linejoin="round" />
<line x1="419.30" y1="594.30" x2="423.00" y2="594.30" stroke="#1c1c1c" stroke-width="1.12" />
<line x1="479.50" y1="360.00" x2="479.50" y2="540.00" stroke="#1c1c1c" stroke-width="1.12" />
<path d="M402.3,385.6 L555.6,385.6 L556,391 Q566,396 568,405 Q570.5,412 570.6,420 L570.6,437.3 L386,437.3 L386,420 Q386.2,412 389,405 Q392,396 401.6,391 Z" fill="none" stroke="#1c1c1c" stroke-width="1.61" stroke-linejoin="round" stroke-linecap="round" />
<line x1="401.60" y1="391.00" x2="556.00" y2="391.00" stroke="#1c1c1c" stroke-width="1.26" />
<line x1="391.00" y1="405.00" x2="566.00" y2="405.00" stroke="#1c1c1c" stroke-width="1.26" />
<line x1="387.00" y1="419.80" x2="570.00" y2="419.80" stroke="#1c1c1c" stroke-width="1.4" />
<path d="M386,437.3 Q383.5,439 383.5,441 L383.5,445 Q384,447.5 386,448.5" fill="none" stroke="#1c1c1c" stroke-width="1.4" stroke-linejoin="round" stroke-linecap="round" />
<path d="M570.6,437.3 Q575,439 575,441 L575,445 Q574.5,447.5 572.5,448.5" fill="none" stroke="#1c1c1c" stroke-width="1.4" stroke-linejoin="round" stroke-linecap="round" />
<line x1="384.00" y1="441.00" x2="575.00" y2="441.00" stroke="#1c1c1c" stroke-width="1.26" />
<line x1="384.00" y1="445.60" x2="575.00" y2="445.60" stroke="#1c1c1c" stroke-width="1.12" />
<line x1="383.50" y1="448.30" x2="575.00" y2="448.30" stroke="#1c1c1c" stroke-width="2.8" />
<path d="M384.8,449.5 Q385,458 391.5,460.8 L565.5,460.8 Q572,458 572.5,449.5" fill="none" stroke="#1c1c1c" stroke-width="1.54" stroke-linejoin="round" stroke-linecap="round" />
<path d="M479.5,369 L497,369 Q500.5,369.5 501.5,373 L504,385.6" fill="none" stroke="#1c1c1c" stroke-width="1.54" stroke-linejoin="round" stroke-linecap="round" />
<line x1="479.50" y1="372.50" x2="501.00" y2="372.50" stroke="#1c1c1c" stroke-width="1.12" />
<path d="M424.3,372 L424.3,365 Q424.3,362.5 427,362.5 L439,362.5 Q441.7,362.5 441.7,365 L441.7,372 Z" fill="#fff" stroke="#1c1c1c" stroke-width="1.68" stroke-linejoin="round" stroke-linecap="round" />
<line x1="428.80" y1="362.50" x2="428.80" y2="372.00" stroke="#1c1c1c" stroke-width="1.26" />
<line x1="437.20" y1="362.50" x2="437.20" y2="372.00" stroke="#1c1c1c" stroke-width="1.26" />
<line x1="433.00" y1="362.50" x2="433.00" y2="372.00" stroke="#1c1c1c" stroke-width="0.84" />
<path d="M424.3,372 Q424.5,376 428,378 L438,378 Q441.5,376 441.7,372 Z" fill="#fff" stroke="#1c1c1c" stroke-width="1.54" stroke-linejoin="round" stroke-linecap="round" />
<path d="M428,378 L428,397.5 Q428,399.5 430,399.5 L436,399.5 Q438,399.5 438,397.5 L438,378" fill="#fff" stroke="#1c1c1c" stroke-width="1.96" stroke-linejoin="round" stroke-linecap="round" />
<line x1="430.60" y1="379.00" x2="430.60" y2="398.50" stroke="#1c1c1c" stroke-width="0.98" />
<line x1="435.40" y1="379.00" x2="435.40" y2="398.50" stroke="#1c1c1c" stroke-width="0.98" />
<line x1="433.00" y1="358.00" x2="433.00" y2="404.00" stroke="#1c1c1c" stroke-width="0.7" />
<path d="M456.3,372 L456.3,365 Q456.3,362.5 459,362.5 L471,362.5 Q473.7,362.5 473.7,365 L473.7,372 Z" fill="#fff" stroke="#1c1c1c" stroke-width="1.68" stroke-linejoin="round" stroke-linecap="round" />
<line x1="460.80" y1="362.50" x2="460.80" y2="372.00" stroke="#1c1c1c" stroke-width="1.26" />
<line x1="469.20" y1="362.50" x2="469.20" y2="372.00" stroke="#1c1c1c" stroke-width="1.26" />
<line x1="465.00" y1="362.50" x2="465.00" y2="372.00" stroke="#1c1c1c" stroke-width="0.84" />
<path d="M456.3,372 Q456.5,376 460,378 L470,378 Q473.5,376 473.7,372 Z" fill="#fff" stroke="#1c1c1c" stroke-width="1.54" stroke-linejoin="round" stroke-linecap="round" />
<path d="M460,378 L460,397.5 Q460,399.5 462,399.5 L468,399.5 Q470,399.5 470,397.5 L470,378" fill="#fff" stroke="#1c1c1c" stroke-width="1.96" stroke-linejoin="round" stroke-linecap="round" />
<line x1="462.60" y1="379.00" x2="462.60" y2="398.50" stroke="#1c1c1c" stroke-width="0.98" />
<line x1="467.40" y1="379.00" x2="467.40" y2="398.50" stroke="#1c1c1c" stroke-width="0.98" />
<line x1="465.00" y1="358.00" x2="465.00" y2="404.00" stroke="#1c1c1c" stroke-width="0.7" />
<path d="M509.3,372 L509.3,365 Q509.3,362.5 512,362.5 L524,362.5 Q526.7,362.5 526.7,365 L526.7,372 Z" fill="#fff" stroke="#1c1c1c" stroke-width="1.68" stroke-linejoin="round" stroke-linecap="round" />
<line x1="513.80" y1="362.50" x2="513.80" y2="372.00" stroke="#1c1c1c" stroke-width="1.26" />
<line x1="522.20" y1="362.50" x2="522.20" y2="372.00" stroke="#1c1c1c" stroke-width="1.26" />
<line x1="518.00" y1="362.50" x2="518.00" y2="372.00" stroke="#1c1c1c" stroke-width="0.84" />
<path d="M509.3,372 Q509.5,376 513,378 L523,378 Q526.5,376 526.7,372 Z" fill="#fff" stroke="#1c1c1c" stroke-width="1.54" stroke-linejoin="round" stroke-linecap="round" />
<path d="M513,378 L513,397.5 Q513,399.5 515,399.5 L521,399.5 Q523,399.5 523,397.5 L523,378" fill="#fff" stroke="#1c1c1c" stroke-width="1.96" stroke-linejoin="round" stroke-linecap="round" />
<line x1="515.60" y1="379.00" x2="515.60" y2="398.50" stroke="#1c1c1c" stroke-width="0.98" />
<line x1="520.40" y1="379.00" x2="520.40" y2="398.50" stroke="#1c1c1c" stroke-width="0.98" />
<line x1="518.00" y1="358.00" x2="518.00" y2="404.00" stroke="#1c1c1c" stroke-width="0.7" />
<polyline points="409.60,460.80 409.60,466.60 427.60,466.60" fill="none" stroke="#1c1c1c" stroke-width="1.26" stroke-linejoin="round" />
<polyline points="429.20,460.80 429.20,469.30 527.00,469.30 527.00,460.80" fill="none" stroke="#1c1c1c" stroke-width="1.4" stroke-linejoin="round" />
<line x1="532.20" y1="444.40" x2="532.20" y2="469.30" stroke="#1c1c1c" stroke-width="1.26" />
<path d="M433.9,469.7 L449.5,469.7 L449.5,476 L448.0,477.6 L435.4,477.6 L433.9,476 Z" fill="#fff" stroke="#1c1c1c" stroke-width="1.54" stroke-linejoin="round" stroke-linecap="round" />
<line x1="437.80" y1="469.70" x2="437.80" y2="477.60" stroke="#1c1c1c" stroke-width="1.26" />
<line x1="445.60" y1="469.70" x2="445.60" y2="477.60" stroke="#1c1c1c" stroke-width="1.26" />
<path d="M457.75,469.7 L476.25,469.7 L476.25,476 L474.75,477.6 L459.25,477.6 L457.75,476 Z" fill="#fff" stroke="#1c1c1c" stroke-width="1.54" stroke-linejoin="round" stroke-linecap="round" />
<line x1="462.38" y1="469.70" x2="462.38" y2="477.60" stroke="#1c1c1c" stroke-width="1.26" />
<line x1="471.62" y1="469.70" x2="471.62" y2="477.60" stroke="#1c1c1c" stroke-width="1.26" />
<path d="M505.95000000000005,469.7 L524.45,469.7 L524.45,476 L522.95,477.6 L507.45000000000005,477.6 L505.95000000000005,476 Z" fill="#fff" stroke="#1c1c1c" stroke-width="1.54" stroke-linejoin="round" stroke-linecap="round" />
<line x1="510.58" y1="469.70" x2="510.58" y2="477.60" stroke="#1c1c1c" stroke-width="1.26" />
<line x1="519.83" y1="469.70" x2="519.83" y2="477.60" stroke="#1c1c1c" stroke-width="1.26" />
<line x1="438.60" y1="455.50" x2="438.60" y2="540.00" stroke="#1c1c1c" stroke-width="0.98" />
<line x1="443.30" y1="457.00" x2="443.30" y2="540.00" stroke="#1c1c1c" stroke-width="0.98" />
<line x1="467.00" y1="456.00" x2="467.00" y2="481.00" stroke="#1c1c1c" stroke-width="0.84" />
<line x1="515.20" y1="456.00" x2="515.20" y2="481.00" stroke="#1c1c1c" stroke-width="0.84" />
<line x1="509.00" y1="458.00" x2="509.00" y2="469.30" stroke="#1c1c1c" stroke-width="0.84" />
<line x1="417.50" y1="462.70" x2="430.00" y2="498.70" stroke="#1c1c1c" stroke-width="2.38" />
<line x1="420.80" y1="466.60" x2="432.50" y2="498.70" stroke="#1c1c1c" stroke-width="1.12" />
<line x1="456.60" y1="470.50" x2="447.20" y2="498.70" stroke="#1c1c1c" stroke-width="1.68" />
<line x1="454.30" y1="470.50" x2="445.00" y2="498.70" stroke="#1c1c1c" stroke-width="1.12" />
<rect x="429.20" y="498.70" width="18.80" height="8.00" rx="0" fill="none" stroke="#1c1c1c" stroke-width="1.1"/>
<rect x="430.50" y="506.70" width="16.20" height="21.50" rx="0" fill="none" stroke="#1c1c1c" stroke-width="1.0"/>
<line x1="432.80" y1="498.70" x2="432.80" y2="528.00" stroke="#1c1c1c" stroke-width="0.98" />
<line x1="445.00" y1="498.70" x2="445.00" y2="528.00" stroke="#1c1c1c" stroke-width="0.98" />
<rect x="433.00" y="528.20" width="11.90" height="9.50" rx="0" fill="#fff" stroke="#1c1c1c" stroke-width="1.0"/>
<line x1="434.30" y1="537.70" x2="434.30" y2="599.50" stroke="#1c1c1c" stroke-width="1.26" />
<line x1="437.40" y1="537.70" x2="437.40" y2="573.00" stroke="#1c1c1c" stroke-width="2.24" />
<line x1="437.80" y1="573.00" x2="437.80" y2="598.50" stroke="#1c1c1c" stroke-width="1.12" />
<line x1="442.70" y1="537.70" x2="442.70" y2="573.00" stroke="#1c1c1c" stroke-width="1.26" />
</g>
<g id="logo" opacity="0.8">
<text x="412.2" y="599.4" font-size="32.8" font-weight="bold" fill="#dedede" stroke="#dedede" stroke-width="1.4" textLength="115.6" lengthAdjust="spacingAndGlyphs">KNOTT</text>
<path d="M531.7,574.4 Q542.9000000000001,592.7 531.7,611 L543.3000000000001,611 Q553.3800000000001,592.7 543.3000000000001,574.4 Z" fill="#dedede"/>
<path d="M545.8,574.4 Q554.5999999999999,592.7 545.8,611 L552.0,611 Q559.92,592.7 552.0,574.4 Z" fill="#dedede"/>
<path d="M556.2,574.4 Q562.2,592.7 556.2,611 L558.7,611 Q564.1,592.7 558.7,574.4 Z" fill="#dedede"/>
<text x="410" y="610" font-size="5.2" font-weight="bold" fill="#e9e9e9" textLength="117" lengthAdjust="spacing">BRAKE AND TRAILER TECHNOLOGY</text>
</g>
</g>
</svg>
</body></html>
